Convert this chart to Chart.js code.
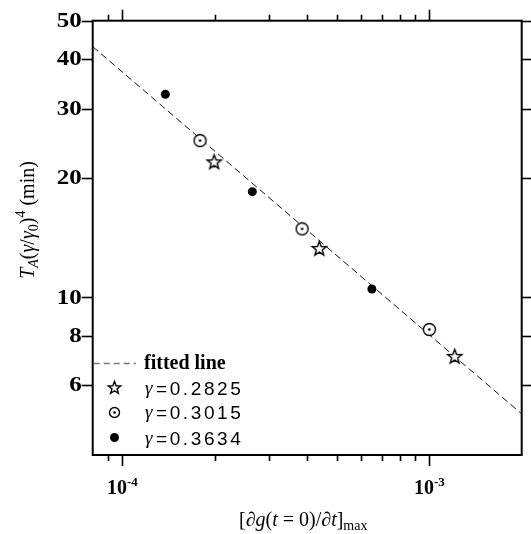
<!DOCTYPE html>
<html>
<head>
<meta charset="utf-8">
<script src="https://cdn.jsdelivr.net/npm/chart.js@4/dist/chart.umd.min.js"></script>
<style>
  body { margin: 0; background: #fff; }
  #wrap { width: 531px; height: 534px; }
</style>
</head>
<body>
<div id="wrap"><canvas id="chart" width="531" height="534"></canvas></div>
<script>
// axis ranges and ticks
const xRange = [8e-5, 2e-3];
const yRange = [4, 50];
const xMajorTicks = [1e-4, 1e-3];
const xMinorTicks = [9e-5, 2e-4, 3e-4, 4e-4, 5e-4, 6e-4, 7e-4, 8e-4, 9e-4];
const yTicks = [6, 8, 10, 20, 30, 40, 50];

// measured points, one series per gamma
const xStar = [1.99e-4, 4.38e-4, 1.21e-3];
const yStar = [22.0, 13.3, 7.1];
const xDot = [1.79e-4, 3.85e-4, 1.0e-3];
const yDot = [24.9, 14.9, 8.3];
const xFill = [1.38e-4, 2.65e-4, 6.5e-4];
const yFill = [32.6, 18.5, 10.5];

// fitted power law, end points
const xFit = [8e-5, 2e-3];
const yFit = [43.0, 5.08];

const gammaLabels = ['0.2825', '0.3015', '0.3634'];

const SERIF = "'Liberation Serif', 'Times New Roman', serif";
const SANS = "'Liberation Sans', Arial, sans-serif";

function pairs(xs, ys) {
    return xs.map((x, i) => ({ x: x, y: ys[i] }));
}

// open five-point star marker
function makeStar(r) {
    const c = document.createElement('canvas');
    const s = 2 * Math.ceil(r + 1) + 1;
    c.width = s; c.height = s;
    const g = c.getContext('2d');
    g.translate(s / 2, s / 2 + 0.5);
    g.beginPath();
    for (let i = 0; i < 10; i++) {
        const rad = i % 2 === 0 ? r : r * 0.42;
        const a = -Math.PI / 2 + i * Math.PI / 5;
        const px = rad * Math.cos(a), py = rad * Math.sin(a);
        if (i === 0) g.moveTo(px, py); else g.lineTo(px, py);
    }
    g.closePath();
    g.fillStyle = '#fff';
    g.fill();
    g.strokeStyle = '#000';
    g.lineWidth = 1.4;
    g.stroke();
    return c;
}

// open circle with a centre dot
function makeDotCircle(r) {
    const c = document.createElement('canvas');
    const s = 2 * Math.ceil(r + 1) + 1;
    c.width = s; c.height = s;
    const g = c.getContext('2d');
    g.translate(s / 2, s / 2);
    g.beginPath();
    g.arc(0, 0, r, 0, Math.PI * 2);
    g.fillStyle = '#fff';
    g.fill();
    g.strokeStyle = '#000';
    g.lineWidth = 1.4;
    g.stroke();
    g.beginPath();
    g.arc(0, 0, 1.3, 0, Math.PI * 2);
    g.fillStyle = '#000';
    g.fill();
    return c;
}

const starImg = makeStar(7.5);
const dotImg = makeDotCircle(6);
const starLegend = makeStar(6.5);
const dotLegend = makeDotCircle(5);

// draws runs of [text, font, dy] left to right, returns end x
function drawRuns(ctx, x, y, runs) {
    runs.forEach(r => {
        ctx.font = r[1];
        ctx.fillText(r[0], x, y + (r[2] || 0));
        x += ctx.measureText(r[0]).width;
    });
    return x;
}

function runsWidth(ctx, runs) {
    let w = 0;
    runs.forEach(r => { ctx.font = r[1]; w += ctx.measureText(r[0]).width; });
    return w;
}

const framePlugin = {
    id: 'frame',
    afterDraw(chart) {
        const ctx = chart.ctx;
        const a = chart.chartArea;
        const xs = chart.scales.x, ys = chart.scales.y;
        ctx.save();
        ctx.strokeStyle = '#000';
        ctx.fillStyle = '#000';

        // box
        ctx.lineWidth = 2;
        ctx.strokeRect(a.left, a.top, a.right - a.left, a.bottom - a.top);

        // ticks on all four sides, pointing out
        ctx.lineWidth = 1.6;
        const tick = (x1, y1, x2, y2) => {
            ctx.beginPath(); ctx.moveTo(x1, y1); ctx.lineTo(x2, y2); ctx.stroke();
        };
        xMajorTicks.forEach(v => {
            const px = Math.round(xs.getPixelForValue(v)) + 0.5;
            tick(px, a.bottom, px, a.bottom + 11);
            tick(px, a.top, px, a.top - 11);
        });
        xMinorTicks.forEach(v => {
            const px = Math.round(xs.getPixelForValue(v)) + 0.5;
            tick(px, a.bottom, px, a.bottom + 6);
            tick(px, a.top, px, a.top - 6);
        });
        yTicks.forEach(v => {
            const py = Math.round(ys.getPixelForValue(v)) + 0.5;
            tick(a.left, py, a.left - 11, py);
            tick(a.right, py, a.right + 10, py);
        });

        // y tick labels, a little wide
        ctx.font = 'bold 20px ' + SERIF;
        ctx.textAlign = 'right';
        ctx.textBaseline = 'middle';
        yTicks.forEach(v => {
            ctx.save();
            ctx.translate(a.left - 11, ys.getPixelForValue(v) + 1);
            ctx.scale(1.25, 1);
            ctx.fillText(String(v), 0, 0);
            ctx.restore();
        });

        // x tick labels as powers of ten
        ctx.textAlign = 'left';
        ctx.textBaseline = 'alphabetic';
        xMajorTicks.forEach(v => {
            const e = Math.round(Math.log10(v));
            const runs = [['10', 'bold 20px ' + SERIF, 0], [String(e), 'bold 13px ' + SERIF, -8]];
            const w = runsWidth(ctx, runs);
            drawRuns(ctx, xs.getPixelForValue(v) - w / 2, 494, runs);
        });

        // x title
        const r20 = '20px ' + SERIF, i20 = 'italic 20px ' + SERIF;
        const xTitle = [['[\u2202', r20], ['g', i20], ['(', r20], ['t', i20], [' = 0)/\u2202', r20],
            ['t', i20], [']', r20], ['max', '14px ' + SERIF, 4]];
        drawRuns(ctx, 239, 526, xTitle);

        // y title, rotated
        const yTitle = [['T', i20], ['A', 'italic 14px ' + SERIF, 4], ['(', r20], ['\u03b3', i20], ['/', r20],
            ['\u03b3', i20], ['0', '14px ' + SERIF, 4], [')', r20], ['4', '14px ' + SERIF, -9], [' (min)', r20]];
        const tw = runsWidth(ctx, yTitle);
        ctx.save();
        ctx.translate(34, 220);
        ctx.rotate(-Math.PI / 2);
        drawRuns(ctx, -tw / 2, 0, yTitle);
        ctx.restore();

        // legend
        ctx.strokeStyle = '#777';
        ctx.lineWidth = 1.5;
        ctx.setLineDash([6, 4]);
        tick(a.left + 1, 363.5, 136, 363.5);
        ctx.setLineDash([]);
        ctx.font = 'bold 20px ' + SERIF;
        ctx.fillText('fitted line', 144, 369);

        const rowsY = [387.5, 412, 437.5];
        ctx.drawImage(starLegend, Math.round(114.5 - starLegend.width / 2), Math.round(rowsY[0] - starLegend.height / 2));
        ctx.drawImage(dotLegend, Math.round(114.5 - dotLegend.width / 2), Math.round(rowsY[1] - dotLegend.height / 2));
        ctx.beginPath();
        ctx.arc(114.5, rowsY[2], 4.5, 0, Math.PI * 2);
        ctx.fill();

        rowsY.forEach((y, i) => {
            ctx.font = 'italic 19px ' + SERIF;
            ctx.fillText('\u03b3', 145, y + 6);
            ctx.font = '19px ' + SANS;
            ctx.letterSpacing = '2.6px';
            ctx.fillText('=' + gammaLabels[i], 156, y + 7);
            ctx.letterSpacing = '0px';
        });

        ctx.restore();
    }
};

document.addEventListener('DOMContentLoaded', function() {
    const ctx = document.getElementById('chart').getContext('2d');
    new Chart(ctx, {
        type: 'scatter',
        data: {
            datasets: [
                {
                    label: 'fitted line',
                    data: pairs(xFit, yFit),
                    showLine: true,
                    borderColor: '#111',
                    borderWidth: 1,
                    borderDash: [7, 4],
                    pointRadius: 0,
                    order: 4
                },
                {
                    label: '\u03b3=' + gammaLabels[0],
                    data: pairs(xStar, yStar),
                    pointStyle: starImg,
                    order: 1
                },
                {
                    label: '\u03b3=' + gammaLabels[1],
                    data: pairs(xDot, yDot),
                    pointStyle: dotImg,
                    order: 2
                },
                {
                    label: '\u03b3=' + gammaLabels[2],
                    data: pairs(xFill, yFill),
                    pointStyle: 'circle',
                    pointRadius: 4.5,
                    backgroundColor: '#000',
                    borderColor: '#000',
                    borderWidth: 0,
                    order: 3
                }
            ]
        },
        options: {
            responsive: false,
            animation: false,
            layout: { padding: { top: 20.7, right: 9.3, left: 0, bottom: 0 } },
            plugins: {
                legend: { display: false },
                tooltip: { enabled: false }
            },
            scales: {
                x: {
                    type: 'logarithmic',
                    min: xRange[0],
                    max: xRange[1],
                    grid: { display: false },
                    border: { display: false },
                    ticks: { display: false },
                    afterFit(s) { s.height = 79; }
                },
                y: {
                    type: 'logarithmic',
                    min: yRange[0],
                    max: yRange[1],
                    grid: { display: false },
                    border: { display: false },
                    ticks: { display: false },
                    afterFit(s) { s.width = 92.7; }
                }
            }
        },
        plugins: [framePlugin]
    });
});
</script>
</body>
</html>
